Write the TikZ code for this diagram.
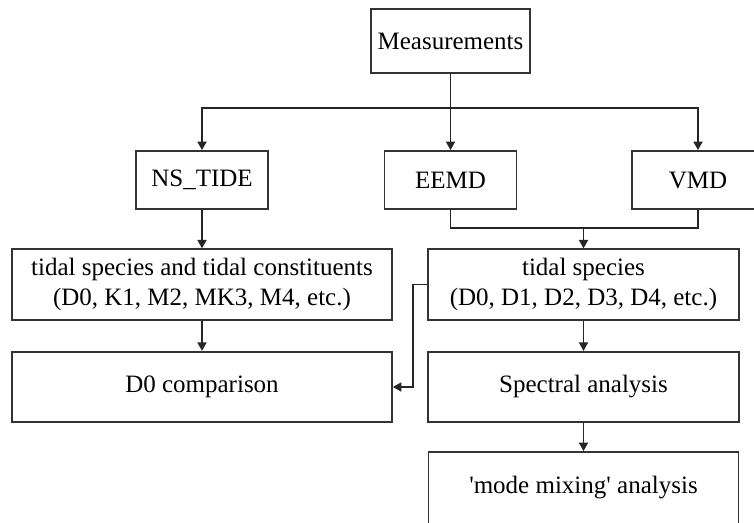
\documentclass[tikz,border=0pt]{standalone}
\usepackage{fontspec}
\setmainfont{Liberation Serif}
\usetikzlibrary{arrows.meta,positioning,calc}

\begin{document}
\begin{tikzpicture}[
  x=0.4pt, y=-0.4pt,
  box/.style={draw=black!80, line width=0.7pt, inner sep=0pt, align=center, font=\fontsize{10}{12}\selectfont},
  small/.style={box, minimum width=52.8pt, minimum height=23.2pt},
  wide/.style={box, minimum width=152pt, minimum height=28.2pt},
  half/.style={box, minimum width=124.4pt, minimum height=28.2pt},
  arr/.style={-{Triangle[length=3.4pt, width=3.6pt]}, draw=black!85, line width=0.7pt},
  lnk/.style={draw=black!85, line width=0.7pt},
]
\useasboundingbox (0,0) rectangle (754,522);

% Input
\node[box, minimum width=63.6pt, minimum height=25.6pt] (meas) at (450.5, 41) {Measurements};

% Methods
\node[small] (ns) at (202, 180) {NS\_TIDE};
\node[small] (eemd) at (450.5, 180) {EEMD};
\node[small] (vmd) at (698, 180) {VMD};

% Results
\node[wide] (cons) at (202, 284.5) {tidal species and tidal constituents\\(D0, K1, M2, MK3, M4, etc.)};
\node[half] (spec) at (583.5, 284.5) {tidal species\\(D0, D1, D2, D3, D4, etc.)};
\node[wide] (cmp) at (202, 387) {D0 comparison};
\node[half] (spa) at (583.5, 387) {Spectral analysis};
\node[box, minimum width=124pt, minimum height=28.8pt] (mix) at (583.5, 488) {\textquotesingle mode mixing\textquotesingle{} analysis};

% Split and merge points
\coordinate (split) at (450.5, 108);
\coordinate (merge) at (583.5, 228);
\coordinate (bend) at (413, 0);

\draw[arr] (meas.south) -- (eemd.north);
\draw[arr] (split) -| (ns.north);
\draw[arr] (split) -| (vmd.north);
\draw[lnk] (eemd.south) |- (merge -| vmd.south) -- (vmd.south);
\draw[arr] (merge) -- (spec.north);

\draw[arr] (ns.south) -- (cons.north);
\draw[arr] (cons.south) -- (cmp.north);
\draw[arr] (spec.south) -- (spa.north);
\draw[arr] (spa.south) -- (mix.north);

% D0 from decomposition
\draw[arr] (spec.west) -- (spec.west -| bend) |- (cmp.east);

\end{tikzpicture}
\end{document}
